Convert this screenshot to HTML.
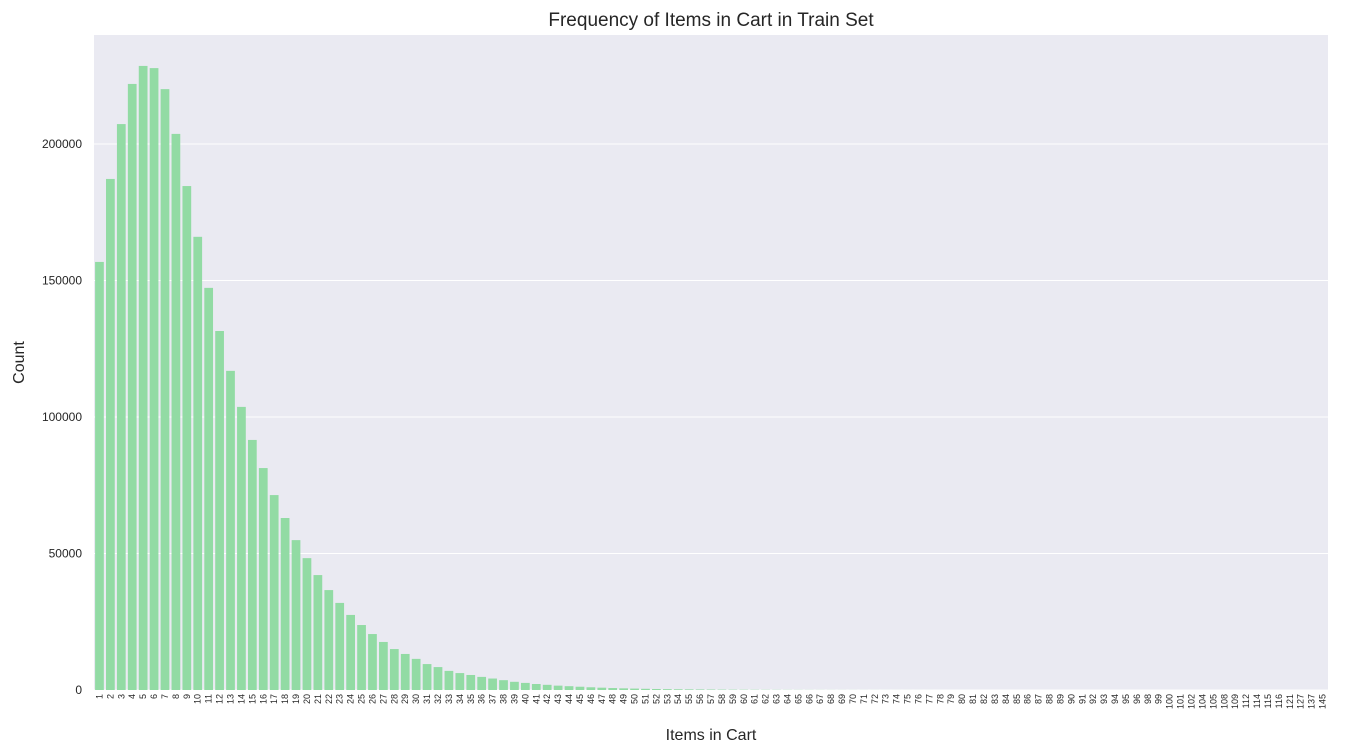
<!DOCTYPE html>
<html><head><meta charset="utf-8"><style>
body{margin:0;background:#fff;font-family:"Liberation Sans",sans-serif;}
</style></head><body>
<svg id="c" width="1347" height="749"></svg>
<script>
const categories=[];
for(let i=1;i<=96;i++)categories.push(String(i));
categories.push("98","99","100","101","102","104","105","108","109","112","114","115","116","121","127","137","145");
const head=[156800,187200,207300,222000,228600,227800,220100,203700,184600,166000,147300,131500,116900,103700,91600,81300,71400,63000,54900,48300,42100,36600,31900,27500,23800,20500,17600,15000,13200,11400,9500,8400,7000,6200,5500,4800,4200,3600,3000,2600,2200,1900,1600,1400,1200,1000,850,720,610,520,440,370,310,260,220,190,160,135,115,98,83,70,60,51,43,36,31,26,22,19,16,14,12,10,9,8,7,6,5,5,4,4,3,3,3,2,2,2,2,1,1,1,1,1,1,1];
const counts=head.concat([1,1,1,1,1,1,1,1,1,1,1,1,1,1,1,1,1]);
const yTicks=[0,50000,100000,150000,200000];
const NS="http://www.w3.org/2000/svg";
const svg=document.getElementById('c');
const L=94,R=1328,T=35,B=690;
const bw=(R-L)/categories.length;
const y=v=>B-v/200000*546;
const x=i=>L+i*bw;
function mk(t,a,p){const e=document.createElementNS(NS,t);for(const k in a)e.setAttribute(k,a[k]);(p||svg).appendChild(e);return e;}
const bg=mk('rect',{x:L,y:T,width:R-L,height:B-T,fill:'#eaeaf2'});


yTicks.forEach(t=>{
 const g=mk('line',{x1:L,x2:R,y1:y(t),y2:y(t),stroke:'#fff','stroke-width':1});
 
 
 const tx=mk('text',{x:L-12,y:y(t)+4,'text-anchor':'end','font-size':12,fill:'#262626'});
 tx.textContent=t;
 
 
});
categories.forEach((c,i)=>{
 const h=B-y(counts[i]);
 const b=mk('rect',{x:x(i)+bw*0.1,y:y(counts[i]),width:bw*0.8,height:h,fill:'#92dba4'});
 
 
 const cx=x(i)+bw/2;
 const tx=mk('text',{x:0,y:0,'font-size':9,fill:'#262626','text-anchor':'end',transform:`translate(${cx+3},${B+4}) rotate(-90)`});
 tx.textContent=c;
 
 
});
const title=mk('text',{x:(L+R)/2,y:26,'text-anchor':'middle','font-size':19,fill:'#262626'});
title.textContent='Frequency of Items in Cart in Train Set';


const xl=mk('text',{x:(L+R)/2,y:740,'text-anchor':'middle','font-size':16,fill:'#262626'});
xl.textContent='Items in Cart';


const yl=mk('text',{x:0,y:0,'text-anchor':'middle','font-size':16,fill:'#262626',transform:`translate(24,${(T+B)/2}) rotate(-90)`});
yl.textContent='Count';


</script>
</body></html>
